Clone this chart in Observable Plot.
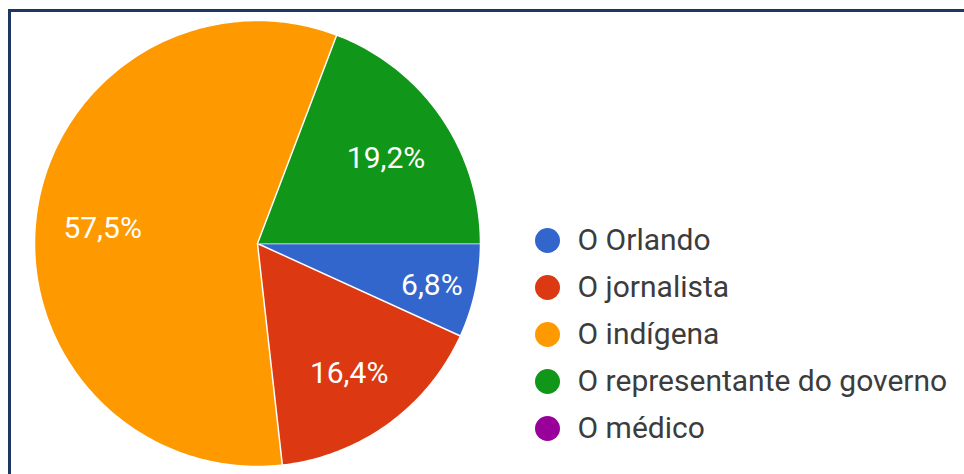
<!DOCTYPE html>
<html><head><meta charset="utf-8">
<script src="https://cdn.jsdelivr.net/npm/d3@7"></script>
<script src="https://cdn.jsdelivr.net/npm/@observablehq/plot@0.6"></script>
<style>
html,body{margin:0;padding:0;background:#fff;}
#wrap{position:relative;width:964px;height:474px;overflow:hidden;}
#frame{position:absolute;left:8px;top:9px;right:-10px;bottom:-10px;border-top:3px solid #1d3760;border-left:3px solid #1d3760;}
#wrap svg{position:absolute;left:0;top:0;}
</style></head><body><div id="wrap"><div id="frame"></div></div>
<script>
const categories = ["O Orlando", "O jornalista", "O indígena", "O representante do governo", "O médico"];
const percentages = [6.8, 16.4, 57.5, 19.2, 0];
const colors = ["#3366cc", "#dc3912", "#ff9900", "#109618", "#990099"];

const data = categories.map((name, i) => ({name, value: percentages[i]}));
const arcs = d3.pie().sort(null).value(d => d.value)
  .startAngle(Math.PI / 2).endAngle(Math.PI / 2 + 2 * Math.PI)(data);

const slicePts = [];
const labelPts = [];
for (const a of arcs) {
  if (a.data.value <= 0) continue;
  const n = Math.max(2, Math.ceil((a.endAngle - a.startAngle) * 180 / Math.PI));
  slicePts.push({name: a.data.name, x: 0, y: 0});
  for (let k = 0; k <= n; k++) {
    const t = a.startAngle + (a.endAngle - a.startAngle) * k / n;
    slicePts.push({name: a.data.name, x: Math.sin(t), y: Math.cos(t)});
  }
  const mid = (a.startAngle + a.endAngle) / 2;
  const f = a.data.value < 10 ? 0.8 : 0.7;
  labelPts.push({x: f * Math.sin(mid), y: f * Math.cos(mid),
    text: a.data.value.toFixed(1).replace(".", ",") + "%"});
}

const wrap = document.getElementById("wrap");

const pie = Plot.plot({
  width: 964, height: 474, margin: 0,
  x: {domain: [-1, 1], range: [34, 480], axis: null},
  y: {domain: [-1, 1], range: [466, 20], axis: null},
  color: {domain: categories, range: colors},
  style: {background: "transparent", fontFamily: "Roboto, Arial, sans-serif"},
  marks: [
    Plot.line(slicePts, {x: "x", y: "y", z: "name", fill: "name", stroke: "white", strokeWidth: 1.5, strokeLinejoin: "round"}),
    Plot.text(labelPts, {x: "x", y: "y", text: "text", fill: "white", fontSize: 30, dy: 4})
  ]
});
wrap.appendChild(pie);

const legend = Plot.plot({
  width: 964, height: 474, margin: 0,
  x: {domain: [0, 1], range: [547, 577], axis: null},
  y: {type: "point", domain: categories, range: [240, 428], padding: 0, axis: null},
  color: {domain: categories, range: colors},
  style: {background: "transparent", fontFamily: "Roboto, Arial, sans-serif"},
  marks: [
    Plot.dot(categories, {x: () => 0, y: d => d, fill: d => d, r: 12.5}),
    Plot.text(categories, {x: () => 1, y: d => d, text: d => d, textAnchor: "start", fill: "#3c3c3c", fontSize: 30})
  ]
});
wrap.appendChild(legend);
</script>
</body></html>
